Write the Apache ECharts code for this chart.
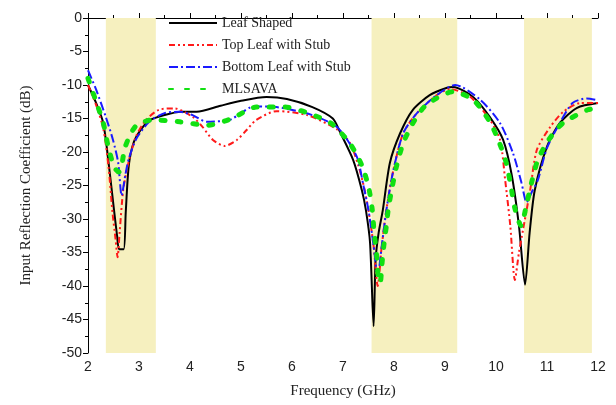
<!DOCTYPE html>
<html><head><meta charset="utf-8">
<script src="https://cdn.jsdelivr.net/npm/echarts@6/dist/echarts.min.js"></script>
<style>html,body{margin:0;padding:0;background:#fff}#c{width:616px;height:405px}</style>
</head><body><div id="c"></div>
<script>
var names = ['Leaf Shaped','Top Leaf with Stub','Bottom Leaf with Stub','MLSAVA'];
var bands = [[2.35,3.33],[7.56,9.24],[10.55,11.88]];

var leafX = [2.0,2.16,2.3,2.41,2.5,2.57,2.61,2.7,2.74,2.8,2.9,3.05,3.2,3.4,3.6,3.8,4.13,4.6,4.98,5.5,5.9,6.4,6.8,6.94,7.2,7.37,7.45,7.53,7.6,7.64,7.7,7.78,7.92,8.12,8.37,8.7,9.04,9.16,9.55,9.88,10.14,10.31,10.45,10.57,10.66,10.76,11.0,11.25,11.59,12.0];
var leafY = [-10,-12.7,-15.7,-22,-28,-32.5,-34.5,-34.5,-29,-22,-18.5,-16.5,-15.3,-14.7,-14.3,-14,-14,-13.1,-12.4,-11.8,-12.1,-13.3,-15,-17,-21.2,-25.7,-28.7,-33.5,-46,-36,-32,-28.7,-21.6,-17.2,-13.7,-11.5,-10.4,-10.3,-11.8,-14.8,-18.2,-23.5,-31,-39.8,-32,-25.7,-19.2,-15.7,-13.4,-12.7];

var topX = [2.0,2.16,2.3,2.4,2.48,2.54,2.58,2.62,2.69,2.78,2.94,3.14,3.39,3.7,4.06,4.25,4.45,4.68,4.92,5.1,5.3,5.7,6.3,6.9,7.14,7.3,7.42,7.5,7.6,7.68,7.76,7.85,7.98,8.18,8.45,8.84,9.1,9.5,9.88,10.08,10.18,10.28,10.37,10.45,10.53,10.67,10.8,11.06,11.32,11.65,12.0];
var topY = [-10,-13,-16.5,-22,-29,-33,-35.7,-32,-25.7,-22,-17.7,-15.2,-13.7,-13.5,-14.8,-16.3,-18.2,-19.1,-18.2,-16.8,-15.2,-13.9,-14.5,-16.7,-18.7,-22,-25.5,-28.7,-34,-40,-34,-28.7,-23,-17.2,-14.2,-11.5,-10.6,-11.8,-15.2,-18.2,-24.2,-31,-39.1,-35,-31.6,-25.7,-19.7,-16.3,-14,-12.7,-12.7];

var botX = [2.0,2.16,2.35,2.49,2.59,2.66,2.73,2.8,2.95,3.2,3.5,3.8,4.05,4.33,4.78,5.0,5.24,5.7,6.4,6.9,7.27,7.4,7.5,7.6,7.68,7.76,7.85,7.98,8.18,8.45,8.84,9.2,9.69,10.08,10.33,10.5,10.6,10.7,10.82,11.0,11.25,11.5,11.78,12.0];
var botY = [-7.8,-10.7,-14.8,-18.2,-21.5,-26.5,-23.5,-21,-18,-15.5,-14.2,-14,-14.5,-15.5,-15.2,-14.2,-13.2,-13.3,-14.5,-16.4,-20.7,-25,-28.7,-34,-38.5,-34,-28.7,-23,-17.2,-14.2,-11.5,-10,-12.2,-15.7,-20.1,-24.6,-27.5,-26,-24.2,-19.4,-15.7,-12.7,-12,-12.3];

var mlX = [2.0,2.16,2.3,2.39,2.51,2.6,2.66,2.73,2.94,3.27,3.8,4.35,4.82,5.3,5.86,6.35,6.78,7.14,7.37,7.5,7.57,7.61,7.66,7.69,7.73,7.76,7.8,7.85,7.89,7.96,8.05,8.18,8.37,8.63,9.16,9.55,9.88,10.06,10.2,10.29,10.37,10.49,10.6,10.7,10.82,11.04,11.31,11.8,12.0];
var mlY = [-9,-12.5,-15.7,-19,-22.2,-23,-22,-19.2,-16.1,-15.2,-15.5,-16,-15,-13.3,-13.3,-14.3,-15.8,-18.8,-22,-25.2,-28.4,-32,-35.4,-38.6,-39.5,-37,-34,-31,-28.4,-25.4,-22.1,-18.7,-15.7,-13,-11,-12.2,-15.5,-18.5,-21.6,-25,-28.4,-31,-27.8,-24.5,-21.2,-18.1,-15.7,-13.7,-13.5];

function zip(xs, ys){ return xs.map(function(x,i){ return [x, ys[i]]; }); }

var chart = echarts.init(document.getElementById('c'));
var serif = 'Liberation Serif';
var sans = 'Liberation Sans';
chart.setOption({
  animation: false,
  backgroundColor: '#fff',
  grid: {left: 88, right: 18, top: 18, bottom: 52},
  legend: {
    orient: 'vertical', left: 163, top: 11, itemWidth: 48, itemHeight: 14, itemGap: 8,
    data: names,
    itemStyle: {opacity: 0},
    textStyle: {fontFamily: serif, fontSize: 14, color: '#222'}
  },
  xAxis: {
    type: 'value', min: 2, max: 12, interval: 1,
    name: 'Frequency (GHz)', nameLocation: 'middle', nameGap: 31,
    nameTextStyle: {fontFamily: serif, fontSize: 15, color: '#222'},
    axisLine: {lineStyle: {color: '#000', width: 1}},
    axisTick: {inside: true, length: 5, lineStyle: {color: '#000'}},
    minorTick: {show: true, splitNumber: 2, length: 3, lineStyle: {color: '#000'}},
    axisLabel: {fontFamily: sans, fontSize: 14, color: '#222', margin: 7},
    splitLine: {show: false}
  },
  yAxis: {
    type: 'value', min: -50, max: 0, interval: 5,
    name: 'Input Reflection Coefficient (dB)', nameLocation: 'middle', nameGap: 54,
    nameTextStyle: {fontFamily: serif, fontSize: 15, color: '#222'},
    axisLine: {show: true, lineStyle: {color: '#000', width: 1}},
    axisTick: {show: true, length: 5, lineStyle: {color: '#000'}},
    minorTick: {show: true, splitNumber: 2, length: 3, lineStyle: {color: '#000'}},
    axisLabel: {fontFamily: sans, fontSize: 14, color: '#222', margin: 6},
    splitLine: {show: false}
  },
  series: [
    {name: 'bands', type: 'line', data: [], silent: true, z: 0,
     markArea: {silent: true, itemStyle: {color: '#f6f0bf'},
       data: bands.map(function(b){ return [{xAxis: b[0]}, {xAxis: b[1]}]; })}},
    {name: names[0], type: 'line', data: zip(leafX, leafY), symbol: 'none', smooth: 0.25,
     lineStyle: {color: '#000', width: 2}, itemStyle: {color: '#000'}},
    {name: names[1], type: 'line', data: zip(topX, topY), symbol: 'none', smooth: 0.25,
     lineStyle: {color: '#ff1a1a', width: 2, type: [6,3,2,3,2,3]}, itemStyle: {color: '#ff1a1a'}},
    {name: names[2], type: 'line', data: zip(botX, botY), symbol: 'none', smooth: 0.25,
     lineStyle: {color: '#1a1aff', width: 2, type: [9,3,2,3]}, itemStyle: {color: '#1a1aff'}},
    {name: names[3], type: 'line', data: zip(mlX, mlY), symbol: 'none', smooth: 0.25,
     lineStyle: {color: '#11e011', width: 5, type: [4,12], cap: 'round'}, itemStyle: {color: '#11e011'}}
  ]
});
</script></body></html>
